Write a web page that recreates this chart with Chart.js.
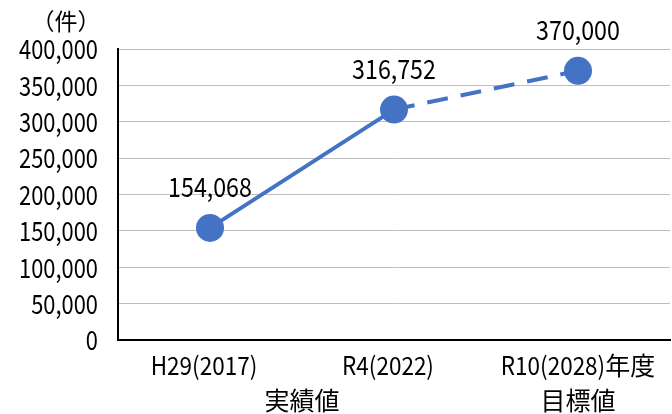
<!DOCTYPE html>
<html>
<head>
<meta charset="utf-8">
<script src="https://cdn.jsdelivr.net/npm/chart.js@4"></script>
<style>
  html, body { margin: 0; padding: 0; background: #fff; }
  #wrap { width: 672px; height: 414px; }
</style>
</head>
<body>
<div id="wrap"><canvas id="chart" width="672" height="414"></canvas></div>
<script>
const years = ['H29(2017)', 'R4(2022)', 'R10(2028)年度'];
const subLabels = ['', '', '目標値'];
const groupLabel = '実績値';   // spans the first two (actual) years
const unitLabel = '（件）';
const counts = [154068, 316752, 370000];
const yTicks = [0, 50000, 100000, 150000, 200000, 250000, 300000, 350000, 400000];

const blue = '#4472C4';
const font = '"Noto Sans CJK JP", "Noto Sans", sans-serif';
const fmt = (v) => v.toLocaleString('en-US');

// the original uses a narrow latin face; squeeze latin runs, keep kanji full width
const isCjk = (s) => /[\u3000-\u9fff\uff00-\uffef]/.test(s);

function drawText(ctx, text, x, y, align, sq) {
  const parts = text.split(/([\u3000-\u9fff\uff00-\uffef]+)/).filter(Boolean);
  const widths = parts.map(p => ctx.measureText(p).width * (isCjk(p) ? 1 : sq));
  const total = widths.reduce((a, b) => a + b, 0);
  let cx = align === 'right' ? x - total : align === 'center' ? x - total / 2 : x;
  ctx.textAlign = 'left';
  ctx.textBaseline = 'middle';
  parts.forEach((p, i) => {
    ctx.save();
    ctx.translate(cx, y);
    if (!isCjk(p)) ctx.scale(sq, 1);
    ctx.fillText(p, 0, 0);
    ctx.restore();
    cx += widths[i];
  });
}

const labelsPlugin = {
  id: 'labels',
  afterDraw(chart) {
    const ctx = chart.ctx;
    const x = chart.scales.x;
    const y = chart.scales.y;
    const meta = chart.getDatasetMeta(0);
    ctx.save();
    ctx.fillStyle = '#000';

    // y tick labels
    ctx.font = '27px ' + font;
    yTicks.forEach(v => drawText(ctx, fmt(v), 98, y.getPixelForValue(v), 'right', 0.81));

    // value labels above points
    meta.data.forEach((pt, i) => drawText(ctx, fmt(counts[i]), pt.x, pt.y - 41, 'center', 0.86));

    // x labels
    ctx.font = '25px ' + font;
    years.forEach((lab, i) => {
      const px = x.getPixelForValue(i);
      drawText(ctx, lab, px - (i < 2 ? 6 : 0), 365, 'center', 0.9);
      if (subLabels[i]) drawText(ctx, subLabels[i], px, 400, 'center', 1);
    });
    const mid = (x.getPixelForValue(0) + x.getPixelForValue(1)) / 2;
    drawText(ctx, groupLabel, mid, 400, 'center', 1);

    // unit
    ctx.font = '23px ' + font;
    drawText(ctx, unitLabel, 66, 21, 'center', 1);
    ctx.restore();
  }
};

new Chart(document.getElementById('chart'), {
  type: 'line',
  data: {
    labels: years,
    datasets: [{
      data: counts,
      borderColor: blue,
      backgroundColor: blue,
      borderWidth: 4,
      pointRadius: 12,
      pointHoverRadius: 12,
      pointBackgroundColor: blue,
      pointBorderColor: blue,
      segment: {
        borderDash: (c) => c.p0DataIndex === 1 ? [21, 13] : undefined
      }
    }]
  },
  options: {
    responsive: false,
    animation: false,
    layout: { autoPadding: false, padding: { top: 49, right: 2, left: 0, bottom: 0 } },
    plugins: { legend: { display: false }, tooltip: { enabled: false } },
    scales: {
      x: {
        offset: true,
        grid: { display: false, drawTicks: false },
        border: { color: '#000', width: 2 },
        ticks: { display: false },
        afterFit: (s) => { s.height = 74; s.paddingLeft = 0; s.paddingRight = 0; }
      },
      y: {
        min: 0,
        max: 400000,
        afterBuildTicks: (s) => { s.ticks = yTicks.map(v => ({ value: v })); },
        grid: { color: '#bfbfbf', lineWidth: 1, drawTicks: false },
        border: { color: '#000', width: 2 },
        ticks: { display: false },
        afterFit: (s) => { s.width = 118; s.paddingTop = 0; s.paddingBottom = 0; }
      }
    }
  },
  plugins: [labelsPlugin]
});
</script>
</body>
</html>
